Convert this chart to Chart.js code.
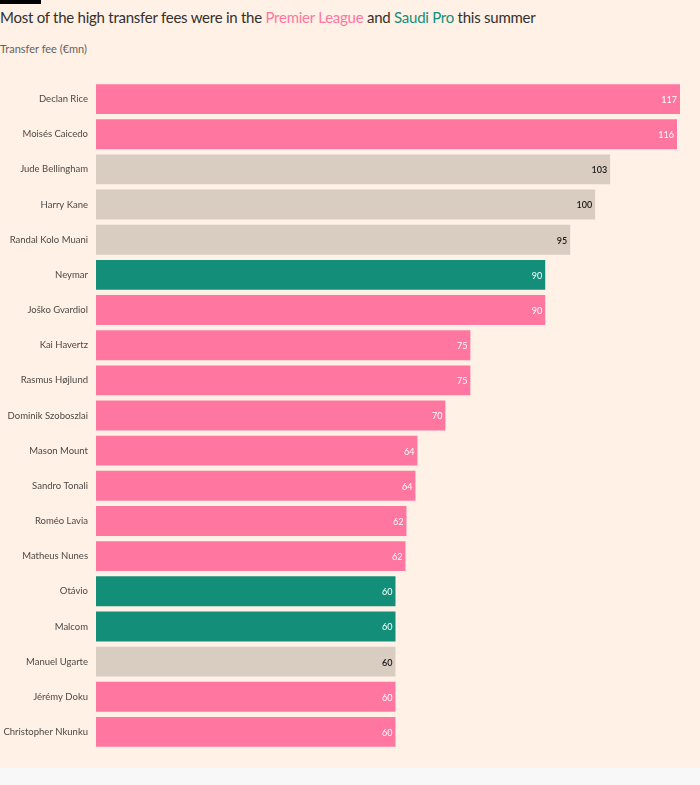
<!DOCTYPE html>
<html>
<head>
<meta charset="utf-8">
<script src="https://cdn.jsdelivr.net/npm/chart.js@4.4.1/dist/chart.umd.min.js"></script>
<style>
  html, body { margin: 0; padding: 0; background: #f8f8f8; }
  #page { position: relative; width: 700px; height: 768px; background: #fff1e5; font-family: Lato, "Open Sans", sans-serif; }
  #topbar { position: absolute; left: 0; top: 0; width: 41px; height: 4px; background: #000; }
  #title { position: absolute; left: 0; top: 8px; font-size: 15px; letter-spacing: -0.25px; color: #33302e; white-space: nowrap; }
  #title .pl { color: #ff76a1; }
  #title .sa { color: #138f79; }
  #subtitle { position: absolute; left: 0; top: 42px; font-size: 11px; color: #66605c; }
  #wrap { position: absolute; left: 0; top: 0; width: 700px; height: 768px; }
</style>
</head>
<body>
<div id="page">
  <div id="topbar"></div>
  <div id="title">Most of the high transfer fees were in the <span class="pl">Premier League</span> and <span class="sa">Saudi Pro</span> this summer</div>
  <div id="subtitle">Transfer fee (€mn)</div>
  <div id="wrap"><canvas id="chart"></canvas></div>
</div>
<script>
// datos del gráfico
const players = ['Declan Rice', 'Moisés Caicedo', 'Jude Bellingham', 'Harry Kane', 'Randal Kolo Muani', 'Neymar',
  'Joško Gvardiol', 'Kai Havertz', 'Rasmus Højlund', 'Dominik Szoboszlai', 'Mason Mount', 'Sandro Tonali',
  'Roméo Lavia', 'Matheus Nunes', 'Otávio', 'Malcom', 'Manuel Ugarte', 'Jérémy Doku', 'Christopher Nkunku'];
const fees = [117, 116.4, 103, 100, 95, 90, 90, 75, 75, 70, 64.4, 64, 62.2, 62, 60, 60, 60, 60, 60];
const leagues = ['pl', 'pl', 'other', 'other', 'other', 'saudi', 'pl', 'pl', 'pl', 'pl', 'pl', 'pl',
  'pl', 'pl', 'saudi', 'saudi', 'other', 'pl', 'pl'];

const colors = { pl: '#ff76a1', saudi: '#138f79', other: '#d9ccc1' };
const labelColors = { pl: '#ffffff', saudi: '#ffffff', other: '#1a1817' };

// etiquetas de valor dentro de la barra
const valueLabels = {
  id: 'valueLabels',
  afterDatasetsDraw(chart) {
    const ctx = chart.ctx;
    const meta = chart.getDatasetMeta(0);
    ctx.save();
    ctx.textAlign = 'right';
    ctx.textBaseline = 'middle';
    meta.data.forEach((bar, i) => {
      const lg = leagues[i];
      ctx.fillStyle = labelColors[lg];
      ctx.font = (lg === 'other' ? '600 ' : '400 ') + '9px Lato, sans-serif';
      ctx.fillText(Math.round(fees[i]), bar.x - 3, bar.y + 1);
    });
    ctx.restore();
  }
};

const chart = new Chart(document.getElementById('chart'), {
  type: 'bar',
  data: {
    labels: players,
    datasets: [{
      data: fees,
      backgroundColor: leagues.map(l => colors[l]),
      borderWidth: 0,
      barPercentage: 0.85,
      categoryPercentage: 1
    }]
  },
  options: {
    indexAxis: 'y',
    responsive: true,
    maintainAspectRatio: false,
    animation: false,
    layout: { padding: { top: 81.5, bottom: 18.5, right: 20, left: 0 } },
    plugins: { legend: { display: false }, tooltip: { enabled: false } },
    scales: {
      x: { min: 0, max: 117, display: false },
      y: {
        grid: { display: false, drawTicks: false },
        border: { display: false },
        ticks: { color: '#4d4845', font: { family: 'Lato', size: 9.5 }, padding: 8 },
        afterFit: (scale) => { scale.width = 96; }
      }
    }
  },
  plugins: [valueLabels]
});
</script>
</body>
</html>
